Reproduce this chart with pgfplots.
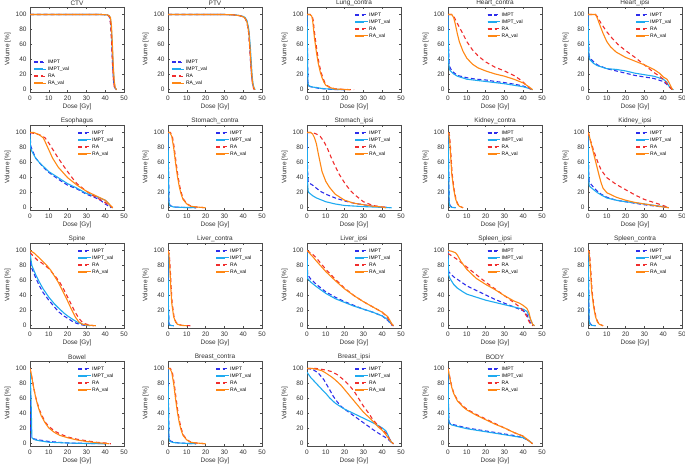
\documentclass[border=0pt]{standalone}
\usepackage{pgfplots}
\pgfplotsset{compat=1.18}
\usepackage{fontspec}
\setmainfont{Liberation Sans}
\definecolor{impt}{RGB}{45,45,235}
\definecolor{imptval}{RGB}{30,170,240}
\definecolor{ra}{RGB}{240,45,45}
\definecolor{raval}{RGB}{255,135,20}
\definecolor{txt}{RGB}{50,50,50}
\pgfplotsset{
 every axis title/.style={at={(0.5,1)}, anchor=south, inner sep=0.8bp,
   font=\fontsize{6.5}{7}\selectfont, text=txt},
 s1/.style={draw=impt, color=impt, dash pattern=on 4bp off 2.5bp, line width=1.1bp},
 s2/.style={draw=imptval, color=imptval, solid, line width=1.1bp},
 s3/.style={draw=ra, color=ra, dash pattern=on 4bp off 3bp, line width=1.1bp},
 s4/.style={draw=raval, color=raval, solid, line width=1.1bp},
 legend image code/.code={\draw[#1, line width=1.9bp] (0bp,0bp) -- (9bp,0bp); \path (0bp,0bp) -- (12.5bp,0bp);},
 dvh/.style={scale only axis, width=94bp, height=85bp,
  xmin=0, xmax=50, ymin=-3, ymax=110,
  xtick={0,10,20,30,40,50}, ytick={0,20,40,60,80,100},
  tick align=inside, tick pos=both, major tick length=2bp,
  axis line style={draw=black!70, line width=0.6bp},
  every tick/.style={black!70, line width=0.5bp},
  /pgf/number format/assume math mode=true,
  tick label style={font=\fontsize{6.5}{7}\selectfont, text=txt},
  label style={font=\fontsize{6.5}{7}\selectfont, text=txt},
  xlabel={Dose [Gy]}, ylabel={Volume [\%]},
  xlabel style={yshift=3bp}, ylabel style={yshift=-2bp},
  every axis plot/.append style={no marks},
  cycle list={{s1},{s2},{s3},{s4}},
  legend entries={IMPT, IMPT\_val, RA, RA\_val},
  legend cell align=left,
  legend style={at={(0.5,0.953)}, anchor=north west, draw=none, fill=none,
   font=\fontsize{5}{5.5}\selectfont, inner sep=0pt, row sep=0pt,
   nodes={inner sep=1bp, text height=4bp, text depth=1bp}},
 },
 lowleg/.style={legend style={at={(0.03,0.06)}, anchor=south west}},
 c4leg/.style={legend style={at={(0.41,0.953)}, anchor=north west}},
}
\begin{document}
\begin{tikzpicture}
\useasboundingbox (0,0) rectangle (685bp,465bp);
% ---------------- Row 1
\begin{axis}[dvh, lowleg, at={(30bp,373bp)}, anchor=south west, title={CTV}]
\addplot coordinates {(0,100)(38,100)(41,99.5)(42,98)(42.5,95)(43,85)(43.5,60)(44,30)(44.5,10)(45,3)(46,0)};
\addplot coordinates {(0,100)(38,100)(41,99.5)(42,98.5)(42.7,96)(43.2,86)(43.7,62)(44.2,32)(44.7,12)(45.2,3)(46,0)};
\addplot coordinates {(0,100)(38,100)(41,99.5)(42,98)(42.5,95)(43,84)(43.5,58)(44,28)(44.5,9)(45,2)(46,0)};
\addplot coordinates {(0,100)(38,100)(41,99.5)(42,98.5)(42.8,96)(43.3,86)(43.8,62)(44.3,32)(44.8,12)(45.3,3)(46,0)};
\end{axis}
\begin{axis}[dvh, lowleg, at={(168bp,373bp)}, anchor=south west, title={PTV}]
\addplot coordinates {(0,100)(30,100)(35,99.5)(38,98.5)(40,97)(41,95)(42,90)(43,75)(43.5,55)(44,35)(44.5,18)(45,8)(45.5,3)(46,0)};
\addplot coordinates {(0,100)(30,100)(35,99.5)(38,98.7)(40,97.5)(41,96)(42,92)(43,80)(43.7,60)(44.2,40)(44.7,20)(45.2,8)(45.7,3)(46.3,0)};
\addplot coordinates {(0,100)(30,100)(35,99.5)(38,98.5)(40,97)(41,95)(42,90)(43,74)(43.5,54)(44,34)(44.5,17)(45,7)(45.5,2)(46,0)};
\addplot coordinates {(0,100)(30,100)(35,99.5)(38,98.5)(40,97)(41,95)(42,90)(43,76)(43.6,56)(44.1,36)(44.6,19)(45.1,8)(45.6,3)(46.2,0)};
\end{axis}
\begin{axis}[dvh, at={(307bp,373bp)}, anchor=south west, title={Lung\_contra}]
\addplot coordinates {(0,100)(0.1,90)(0.3,40)(0.5,10)(1,5)(2,4)(4,3)(6,2)(10,1)(15,0.3)(20,0)};
\addplot coordinates {(0,100)(0.1,85)(0.3,35)(0.5,8)(1,5)(3,3.5)(5,3)(7,2)(10,1.2)(15,0.5)(20,0)};
\addplot coordinates {(0,100)(1.8,100)(2.8,98)(3.3,92)(3.8,80)(4.4,68)(5.4,50)(6.4,35)(7.4,24)(8.4,16)(9.4,10)(10.4,6)(12.4,3)(15,1.2)(20,0.4)(25,0)};
\addplot coordinates {(0,100)(1.5,100)(2.5,98)(3,92)(3.5,80)(4,68)(5,50)(6,35)(7,24)(8,16)(9,10)(10,6)(12,3)(15,1)(20,0.3)(23,0)};
\end{axis}
\begin{axis}[dvh, c4leg, at={(448bp,373bp)}, anchor=south west, title={Heart\_contra}]
\addplot coordinates {(0,100)(0.3,60)(0.6,33)(1,30)(2,25)(5,19)(10,16)(15,14)(20,13)(25,11)(30,9.5)(35,7.5)(40,5)(43,2)(45,0)};
\addplot coordinates {(0,100)(0.3,40)(0.6,30)(1,26)(3,21)(5,18)(10,14)(20,11)(30,8)(40,4)(44,1)(45,0)};
\addplot coordinates {(0,100)(2,100)(3,98)(5,88)(8,74)(10,64)(13,53)(16,45)(20,37)(25,30)(30,25)(35,19)(38,14)(40,10)(42,5)(44,1)(45,0)};
\addplot coordinates {(0,100)(2,100)(3,96)(4,86)(5,74)(6,64)(8,51)(10,42)(13,34)(16,29)(20,25)(25,21)(30,18)(35,14)(40,9)(43,4)(45,0)};
\end{axis}
\begin{axis}[dvh, at={(588bp,373bp)}, anchor=south west, title={Heart\_ipsi}]
\addplot coordinates {(0,100)(0.3,60)(0.6,45)(1,42)(3,37)(5,33)(10,28)(15,25)(20,22)(25,19)(30,17)(35,15)(40,11)(42,7)(44,2)(45,0)};
\addplot coordinates {(0,100)(0.3,55)(0.6,43)(1,40)(3,35)(5,32)(10,28)(15,27)(20,25)(25,22)(30,20)(35,18)(40,14)(42,10)(43,5)(44.5,1)(45.5,0)};
\addplot coordinates {(0,100)(4,100)(5,97)(7,88)(10,77)(13,68)(16,60)(20,52)(25,43)(30,33)(35,23)(38,18)(40,14)(42,8)(44,2)(45,0)};
\addplot coordinates {(0,100)(4,100)(5,95)(6,88)(8,75)(10,64)(12,57)(15,50)(20,43)(25,38)(30,33)(35,27)(38,22)(40,17)(42,14)(43,10)(44,5)(45,0)};
\end{axis}
% ---------------- Row 2
\begin{axis}[dvh, at={(30bp,255bp)}, anchor=south west, title={Esophagus}]
\addplot coordinates {(0,100)(0.4,82)(1,78)(2,72)(3,66)(5,60)(7,54)(10,47)(15,38)(20,30)(25,25)(30,18)(35,13)(38,9)(40,5)(42,2)(43,0)};
\addplot coordinates {(0,97)(0.3,80)(1,75)(3,66)(5,60)(10,48)(15,40)(20,32)(25,26)(30,19)(35,15)(40,10)(42,5)(43,1)(44,0)};
\addplot coordinates {(0,100)(5,97)(8,93)(10,86)(12,78)(15,66)(18,55)(20,48)(23,38)(25,32)(30,22)(33,17)(35,14)(40,7)(42,3)(44,0)};
\addplot coordinates {(0,100)(2,100)(5,97)(7,93)(8,88)(10,77)(12,66)(15,54)(20,40)(25,30)(30,22)(35,16)(40,10)(42,5)(44,0)};
\end{axis}
\begin{axis}[dvh, at={(168bp,255bp)}, anchor=south west, title={Stomach\_contra}]
\addplot coordinates {(0,100)(0.2,60)(0.5,10)(1,3)(3,1)(8,0.5)(15,0)};
\addplot coordinates {(0,100)(0.2,55)(0.5,8)(1,2.5)(3,1)(8,0.4)(15,0)};
\addplot coordinates {(0,100)(1.3,100)(2.3,95)(3.3,80)(4.3,60)(5.3,42)(6.3,28)(7.3,18)(8.3,11)(10.3,5)(12.3,2)(15,1)(20,0)};
\addplot coordinates {(0,100)(1,100)(2,95)(3,80)(4,60)(5,42)(6,28)(7,18)(8,11)(10,5)(12,2)(15,1)(20,0)};
\end{axis}
\begin{axis}[dvh, at={(307bp,255bp)}, anchor=south west, title={Stomach\_ipsi}]
\addplot coordinates {(0,100)(0.3,50)(0.6,35)(1,33)(3,30)(5,26)(7,22)(10,18)(15,13)(20,9)(25,6)(30,4)(35,2)(40,1)(44,0)};
\addplot coordinates {(0,100)(0.3,35)(0.6,22)(1,20)(3,16)(5,13)(8,10)(10,8)(15,5)(20,3)(30,1.5)(40,0.5)(45,0)};
\addplot coordinates {(0,100)(3,100)(5,98)(7,95)(9,88)(11,78)(13,66)(15,55)(17,45)(20,33)(23,23)(25,18)(28,12)(30,8)(33,5)(35,3)(40,1)(43,0)};
\addplot coordinates {(0,100)(2,100)(3,98)(4,93)(5,85)(6,72)(7,60)(8,48)(10,35)(12,27)(15,18)(20,10)(25,6)(30,4)(35,2)(40,1)(42,0)};
\end{axis}
\begin{axis}[dvh, c4leg, at={(448bp,255bp)}, anchor=south west, title={Kidney\_contra}]
\addplot coordinates {(0,100)(0.3,60)(0.6,10)(1,3)(2,1)(4,0)};
\addplot coordinates {(0,100)(0.3,55)(0.6,8)(1,2)(2,0.5)(4,0)};
\addplot coordinates {(0,100)(0.7,98)(1.2,85)(1.7,65)(2.2,45)(3.2,25)(4.2,12)(5.2,5)(6.2,2)(8,0)};
\addplot coordinates {(0,100)(0.5,98)(1,85)(1.5,65)(2,45)(3,25)(4,12)(5,5)(6,2)(8,0)};
\end{axis}
\begin{axis}[dvh, at={(588bp,255bp)}, anchor=south west, title={Kidney\_ipsi}]
\addplot coordinates {(0,100)(0.3,50)(0.6,35)(1,33)(2,30)(3,27)(5,22)(7,18)(10,14)(15,10)(20,8)(25,6)(30,4)(35,2.5)(40,1)(43,0)};
\addplot coordinates {(0,100)(0.3,45)(0.6,30)(1,28)(3,24)(5,20)(7,17)(10,13)(15,10)(20,8)(30,5)(40,1.5)(43,0)};
\addplot coordinates {(0,100)(1,92)(2,84)(3,76)(5,62)(7,50)(10,40)(15,31)(20,24)(25,17)(30,11)(35,7)(40,3)(43,0)};
\addplot coordinates {(0,100)(0.5,98)(1,92)(2,82)(3,72)(4,62)(5,52)(6,42)(7,33)(8,26)(10,20)(15,14)(20,10)(25,7)(30,5)(35,3)(40,1)(43,0)};
\end{axis}
% ---------------- Row 3
\begin{axis}[dvh, at={(30bp,137bp)}, anchor=south west, title={Spine}]
\addplot coordinates {(0,85)(1,76)(3,64)(5,53)(7,44)(10,34)(13,25)(15,19)(18,13)(20,10)(23,5)(25,3)(28,1)(30,0)};
\addplot coordinates {(0,98)(0.5,88)(1,80)(3,68)(5,58)(7,49)(10,38)(13,29)(15,24)(18,17)(20,13)(23,8)(25,5)(28,2)(30,0.5)(32,0)};
\addplot coordinates {(0,97)(2,92)(4,87)(6,84)(8,80)(10,76)(12,70)(14,64)(16,57)(18,48)(20,38)(22,28)(24,18)(26,10)(28,4)(30,2)(34,0)};
\addplot coordinates {(0,100)(2,97)(5,90)(7,85)(9,80)(11,74)(13,66)(15,58)(17,48)(19,38)(20,33)(22,22)(24,12)(26,5)(28,2)(30,1)(35,0)};
\end{axis}
\begin{axis}[dvh, at={(168bp,137bp)}, anchor=south west, title={Liver\_contra}]
\addplot coordinates {(0,100)(0.2,30)(0.5,3)(1,1)(3,0)};
\addplot coordinates {(0,100)(0.2,25)(0.5,2)(1,0.5)(3,0)};
\addplot coordinates {(0,100)(0.7,95)(1.2,75)(1.7,50)(2.2,30)(3.2,12)(4.2,5)(5.2,2)(7.5,0.5)(12,0)};
\addplot coordinates {(0,100)(0.5,95)(1,75)(1.5,50)(2,30)(3,12)(4,5)(5,2)(7,0.5)(10,0)};
\end{axis}
\begin{axis}[dvh, at={(307bp,137bp)}, anchor=south west, title={Liver\_ipsi}]
\addplot coordinates {(0,100)(0.3,68)(2,62)(5,55)(10,45)(15,38)(20,32)(25,27)(30,22)(35,18)(40,13)(43,7)(45,1)(46,0)};
\addplot coordinates {(0,100)(0.3,63)(2,58)(5,52)(10,43)(15,36)(20,31)(25,26)(30,22)(35,18)(40,13)(43,8)(45,2)(46,0)};
\addplot coordinates {(0,100)(3,95)(5,90)(10,75)(15,62)(20,50)(25,40)(30,32)(35,25)(40,18)(43,10)(45,2)(46,0)};
\addplot coordinates {(0,100)(3,92)(5,86)(10,72)(15,60)(20,49)(25,40)(30,32)(35,25)(40,18)(43,12)(45,3)(46,0)};
\end{axis}
\begin{axis}[dvh, c4leg, at={(448bp,137bp)}, anchor=south west, title={Spleen\_ipsi}]
\addplot coordinates {(0,100)(0.3,72)(1,70)(3,65)(6,60)(10,53)(15,47)(20,41)(25,35)(30,30)(35,25)(40,20)(42,15)(43,8)(44,3)(45,0)};
\addplot coordinates {(0,100)(0.3,68)(1,63)(3,55)(5,50)(8,45)(10,42)(15,38)(20,34)(25,31)(30,28)(35,25)(40,22)(42,19)(43,14)(44,8)(45,2)(46,0)};
\addplot coordinates {(0,96)(2,93)(5,88)(8,82)(10,78)(15,68)(20,58)(25,49)(30,40)(35,31)(38,25)(40,20)(42,12)(43,6)(44,2)(45,0)};
\addplot coordinates {(0,100)(2,99)(4,97)(5,94)(7,85)(10,75)(15,63)(20,55)(25,48)(30,40)(35,33)(38,30)(40,27)(42,23)(43,18)(44,8)(45,2)(46,0)};
\end{axis}
\begin{axis}[dvh, at={(588bp,137bp)}, anchor=south west, title={Spleen\_contra}]
\addplot coordinates {(0,100)(0.3,60)(0.6,10)(1,3)(2,1)(4,0)};
\addplot coordinates {(0,100)(0.3,55)(0.6,8)(1,2)(2,0.5)(4,0)};
\addplot coordinates {(0,100)(0.7,98)(1.2,85)(1.7,65)(2.2,45)(3.2,25)(4.2,12)(5.2,5)(6.2,2)(8,0)};
\addplot coordinates {(0,100)(0.5,98)(1,85)(1.5,65)(2,45)(3,25)(4,12)(5,5)(6,2)(8,0)};
\end{axis}
% ---------------- Row 4
\begin{axis}[dvh, at={(30bp,19bp)}, anchor=south west, title={Bowel}]
\addplot coordinates {(0,100)(0.2,30)(0.5,8)(1,7)(3,6)(5,5)(10,3)(15,2)(20,1)(30,0.5)(40,0)};
\addplot coordinates {(0,100)(0.5,65)(1,8)(2,6)(3,5)(5,4)(10,2)(20,1)(30,0.3)(40,0)};
\addplot coordinates {(0,100)(1,88)(2,74)(3,62)(5,45)(8,29)(10,23)(13,17)(16,13)(20,9)(25,6)(30,4)(35,2)(40,1)(43,0)};
\addplot coordinates {(0,100)(0.5,95)(1,88)(2,74)(3,62)(4,52)(5,44)(6,37)(8,28)(10,21)(13,15)(16,11)(20,8)(25,5)(30,3)(35,1.5)(40,0.5)(42,0)};
\end{axis}
\begin{axis}[dvh, at={(168bp,19bp)}, anchor=south west, title={Breast\_contra}]
\addplot coordinates {(0,100)(0.2,60)(0.5,10)(1,4)(3,2)(6,1)(10,0.5)(15,0)};
\addplot coordinates {(0,100)(0.2,55)(0.5,8)(1,3)(3,1.5)(6,1)(10,0.4)(15,0)};
\addplot coordinates {(0,100)(1.3,100)(2.3,95)(3.3,80)(4.3,60)(5.3,42)(6.3,28)(7.3,18)(8.3,11)(10.3,5)(12.3,2)(15,1)(20,0)};
\addplot coordinates {(0,100)(1,100)(2,95)(3,80)(4,60)(5,42)(6,28)(7,18)(8,11)(10,5)(12,2)(15,1)(20,0)};
\end{axis}
\begin{axis}[dvh, at={(307bp,19bp)}, anchor=south west, title={Breast\_ipsi}]
\addplot coordinates {(0,100)(3,99)(6,94)(9,85)(12,72)(14,63)(16,56)(18,50)(20,46)(25,37)(30,28)(35,19)(38,14)(40,11)(42,8)(44,4)(45,1)(46,0)};
\addplot coordinates {(0,95)(2,88)(5,80)(8,72)(10,67)(12,61)(15,54)(18,49)(20,46)(25,40)(30,34)(35,28)(38,24)(40,21)(42,17)(43,12)(44,6)(45,2)(46,0)};
\addplot coordinates {(0,100)(5,100)(10,98)(13,96)(16,92)(18,88)(20,84)(23,76)(25,70)(28,58)(30,50)(33,40)(35,32)(38,24)(40,19)(42,14)(44,6)(45,2)(46,0)};
\addplot coordinates {(0,100)(3,100)(5,99)(8,97)(10,94)(13,89)(15,85)(18,78)(20,72)(23,63)(25,57)(28,48)(30,42)(33,35)(35,30)(38,22)(40,18)(42,12)(44,5)(45,2)(46,0)};
\end{axis}
\begin{axis}[dvh, c4leg, at={(448bp,19bp)}, anchor=south west, title={BODY}]
\addplot coordinates {(0,100)(0.3,40)(0.6,28)(2,26)(5,24)(10,21)(15,19)(20,17)(25,15)(30,13)(35,11)(40,8)(43,4)(45,0)};
\addplot coordinates {(0,100)(0.3,38)(0.6,27)(2,25)(5,23)(10,20)(15,18)(20,16)(25,14)(30,12)(35,10)(40,8)(43,4)(45,0)};
\addplot coordinates {(0,100)(1,88)(2,76)(3,68)(5,58)(8,50)(10,46)(15,39)(20,33)(25,27)(30,21)(35,15)(40,10)(43,4)(45,0)};
\addplot coordinates {(0,100)(1,87)(2,75)(3,67)(5,57)(8,49)(10,45)(15,38)(20,32)(25,26)(30,21)(35,15)(40,10)(43,4)(45,0)};
\end{axis}
\end{tikzpicture}
\end{document}
